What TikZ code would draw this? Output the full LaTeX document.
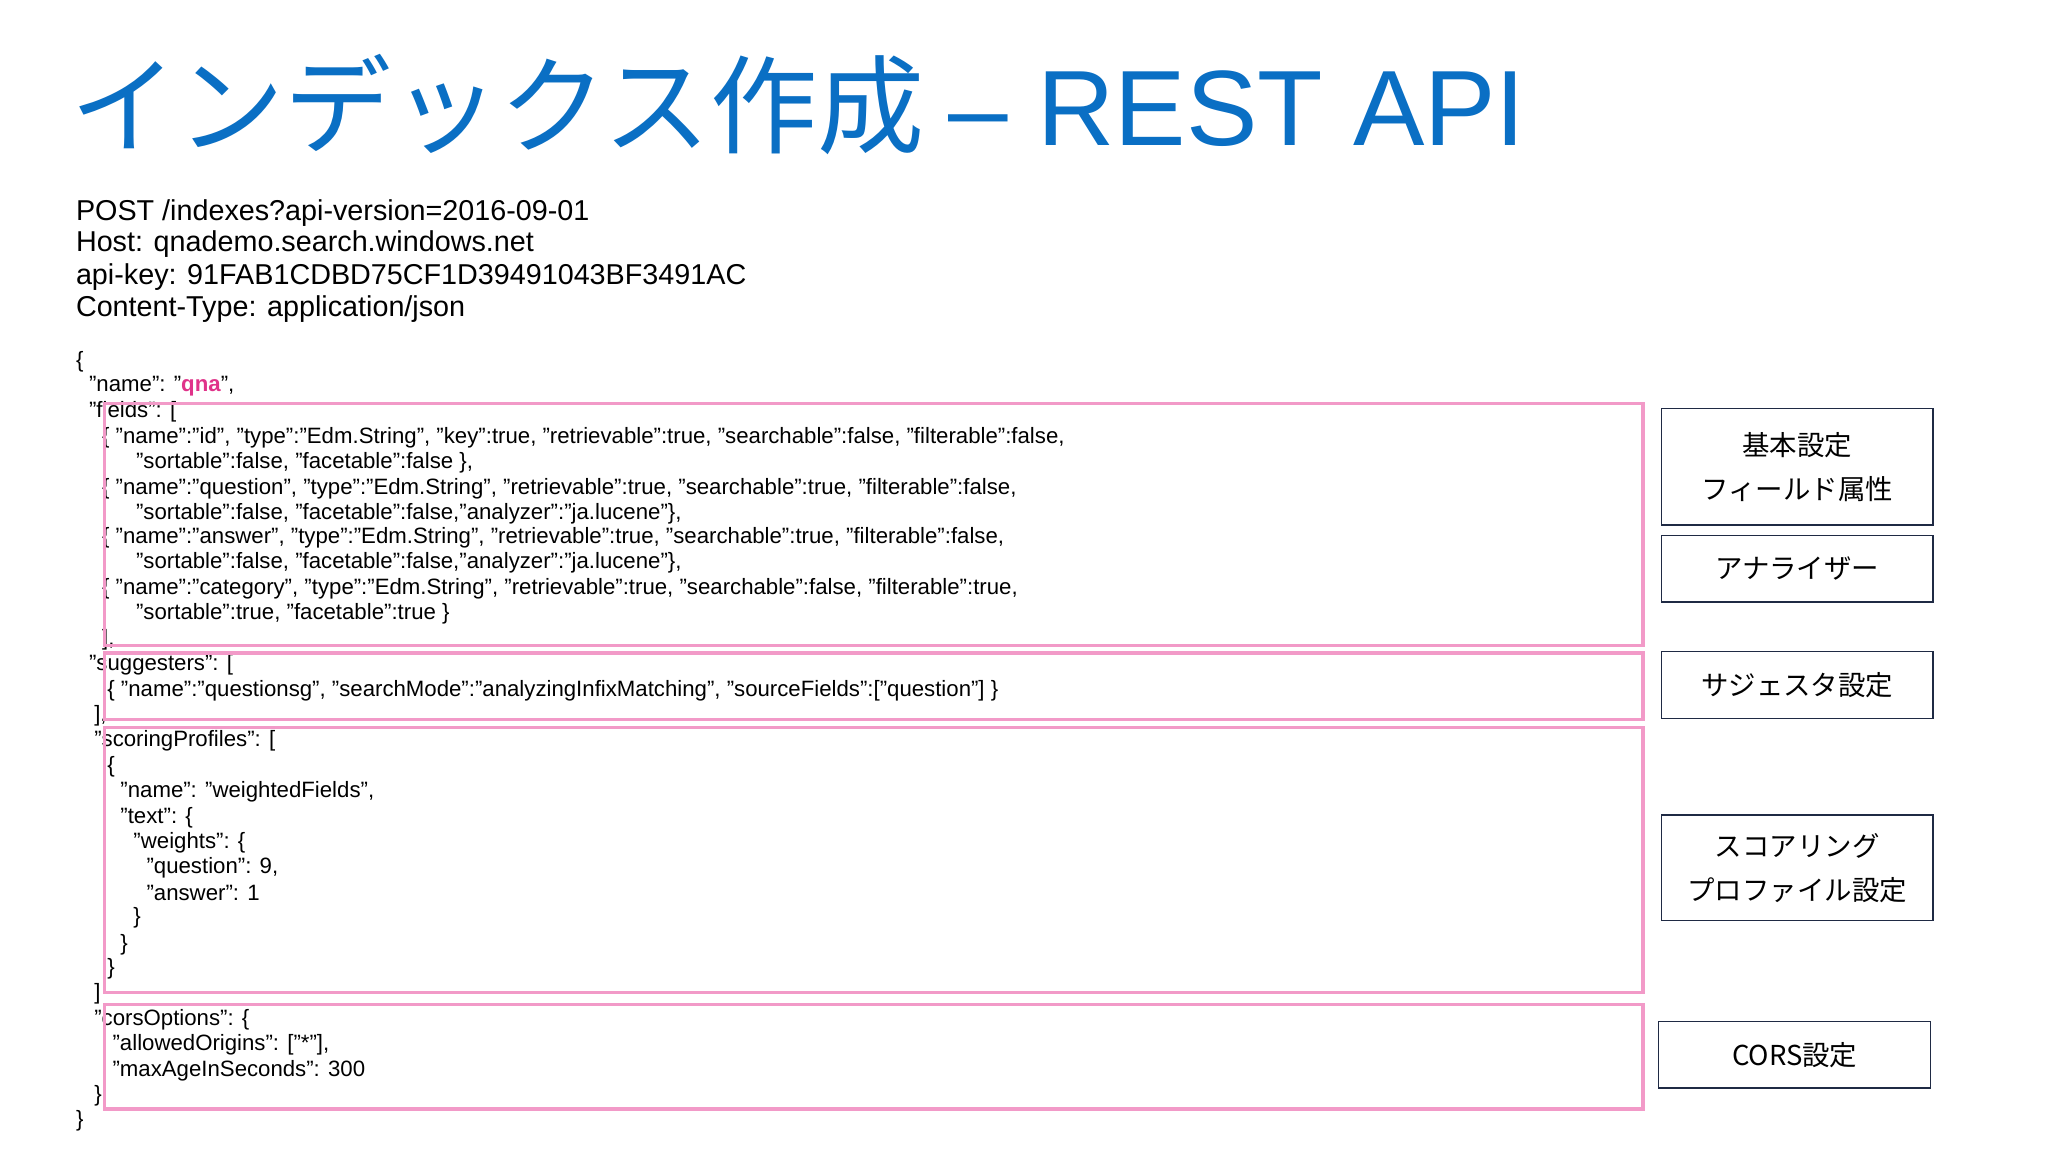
\documentclass[tikz,border=0pt]{standalone}
\usepackage{fontspec}
\setmainfont{Liberation Sans}
\newfontfamily\jp{Noto Sans CJK JP}
\definecolor{titleblue}{HTML}{0A6FC4}
\definecolor{pinkbox}{HTML}{F29AC8}
\definecolor{qnapink}{HTML}{E0338A}
\definecolor{navy}{HTML}{1F2A44}
\tikzset{
  code/.style={anchor=west,inner sep=0pt,font=\fontsize{17}{17}\selectfont},
  hdr/.style={anchor=west,inner sep=0pt,font=\fontsize{22}{22}\selectfont},
  pbox/.style={draw=pinkbox,line width=2.6pt},
  lbox/.style={draw=navy,line width=1pt,align=center,font=\jp\fontsize{21}{34}\selectfont}
}
\newcommand{\cdl}[4]{\node[code] (#1) at (#2,#3) {#4};}
\begin{document}
\begin{tikzpicture}[x=1pt,y=-1pt]
\useasboundingbox (0,0) rectangle (1568,882);
\fill[white] (0,0) rectangle (1568,882);
\node[anchor=west,inner sep=0pt,text=titleblue,font=\jp\fontsize{82}{82}\selectfont] (title) at (54,80) {インデックス作成 {\fontspec{Liberation Sans}\fontsize{82}{82}\selectfont – REST API}};
\node[hdr] (h1) at (58,163) {POST /indexes?api-version=2016-09-01};
\node[hdr] (h2) at (58,187) {Host: qnademo.search.windows.net};
\node[hdr] (h3) at (58,212) {api-key: 91FAB1CDBD75CF1D39491043BF3491AC};
\node[hdr] (h4) at (58,237) {Content-Type: application/json};
\cdl{c1}{58}{277}{\{}
\cdl{c2}{68}{296}{"name": "\textcolor{qnapink}{\textbf{qna}}",}
\cdl{c3}{68}{315}{"fields": [}
\cdl{c4}{78}{335}{\{ "name":"id", "type":"Edm.String", "key":true, "retrievable":true, "searchable":false, "filterable":false,}
\cdl{c5}{104}{354}{"sortable":false, "facetable":false \},}
\cdl{c6}{78}{374}{\{ "name":"question", "type":"Edm.String", "retrievable":true, "searchable":true, "filterable":false,}
\cdl{c7}{104}{393}{"sortable":false, "facetable":false,"analyzer":"ja.lucene"\},}
\cdl{c8}{78}{412}{\{ "name":"answer", "type":"Edm.String", "retrievable":true, "searchable":true, "filterable":false,}
\cdl{c9}{104}{431}{"sortable":false, "facetable":false,"analyzer":"ja.lucene"\},}
\cdl{c10}{78}{451}{\{ "name":"category", "type":"Edm.String", "retrievable":true, "searchable":false, "filterable":true,}
\cdl{c11}{104}{470}{"sortable":true, "facetable":true \}}
\cdl{c12}{78}{490}{],}
\cdl{c13}{68}{509}{"suggesters": [}
\cdl{c14}{82}{529}{\{ "name":"questionsg", "searchMode":"analyzingInfixMatching", "sourceFields":["question"] \}}
\cdl{c15}{72}{548}{],}
\cdl{c16}{72}{567}{"scoringProfiles": [}
\cdl{c17}{82}{587}{\{}
\cdl{c18}{92}{606}{"name": "weightedFields",}
\cdl{c19}{92}{626}{"text": \{}
\cdl{c20}{102}{645}{"weights": \{}
\cdl{c21}{112}{664}{"question": 9,}
\cdl{c22}{112}{684}{"answer": 1}
\cdl{c23}{102}{703}{\}}
\cdl{c24}{92}{723}{\}}
\cdl{c25}{82}{742}{\}}
\cdl{c26}{72}{761}{]}
\cdl{c27}{72}{781}{"corsOptions": \{}
\cdl{c28}{86}{800}{"allowedOrigins": ["*"],}
\cdl{c29}{86}{820}{"maxAgeInSeconds": 300}
\cdl{c30}{72}{839}{\}}
\cdl{c31}{58}{858}{\}}
\draw[pbox] (80,309) rectangle (1258,494);
\draw[pbox] (80,500) rectangle (1258,551);
\draw[pbox] (80,557) rectangle (1258,760);
\draw[pbox] (80,769) rectangle (1258,849);
\node[lbox,minimum width=208pt,minimum height=89pt] (b1) at (1376,357.5) {基本設定\\フィールド属性};
\node[lbox,minimum width=208pt,minimum height=51pt] (b2) at (1376,435.5) {アナライザー};
\node[lbox,minimum width=208pt,minimum height=51pt] (b3) at (1376,524.5) {サジェスタ設定};
\node[lbox,minimum width=208pt,minimum height=81pt] (b4) at (1376,664.5) {スコアリング\\プロファイル設定};
\node[lbox,minimum width=208pt,minimum height=51pt] (b5) at (1374,807.5) {CORS設定};
\end{tikzpicture}
\end{document}
